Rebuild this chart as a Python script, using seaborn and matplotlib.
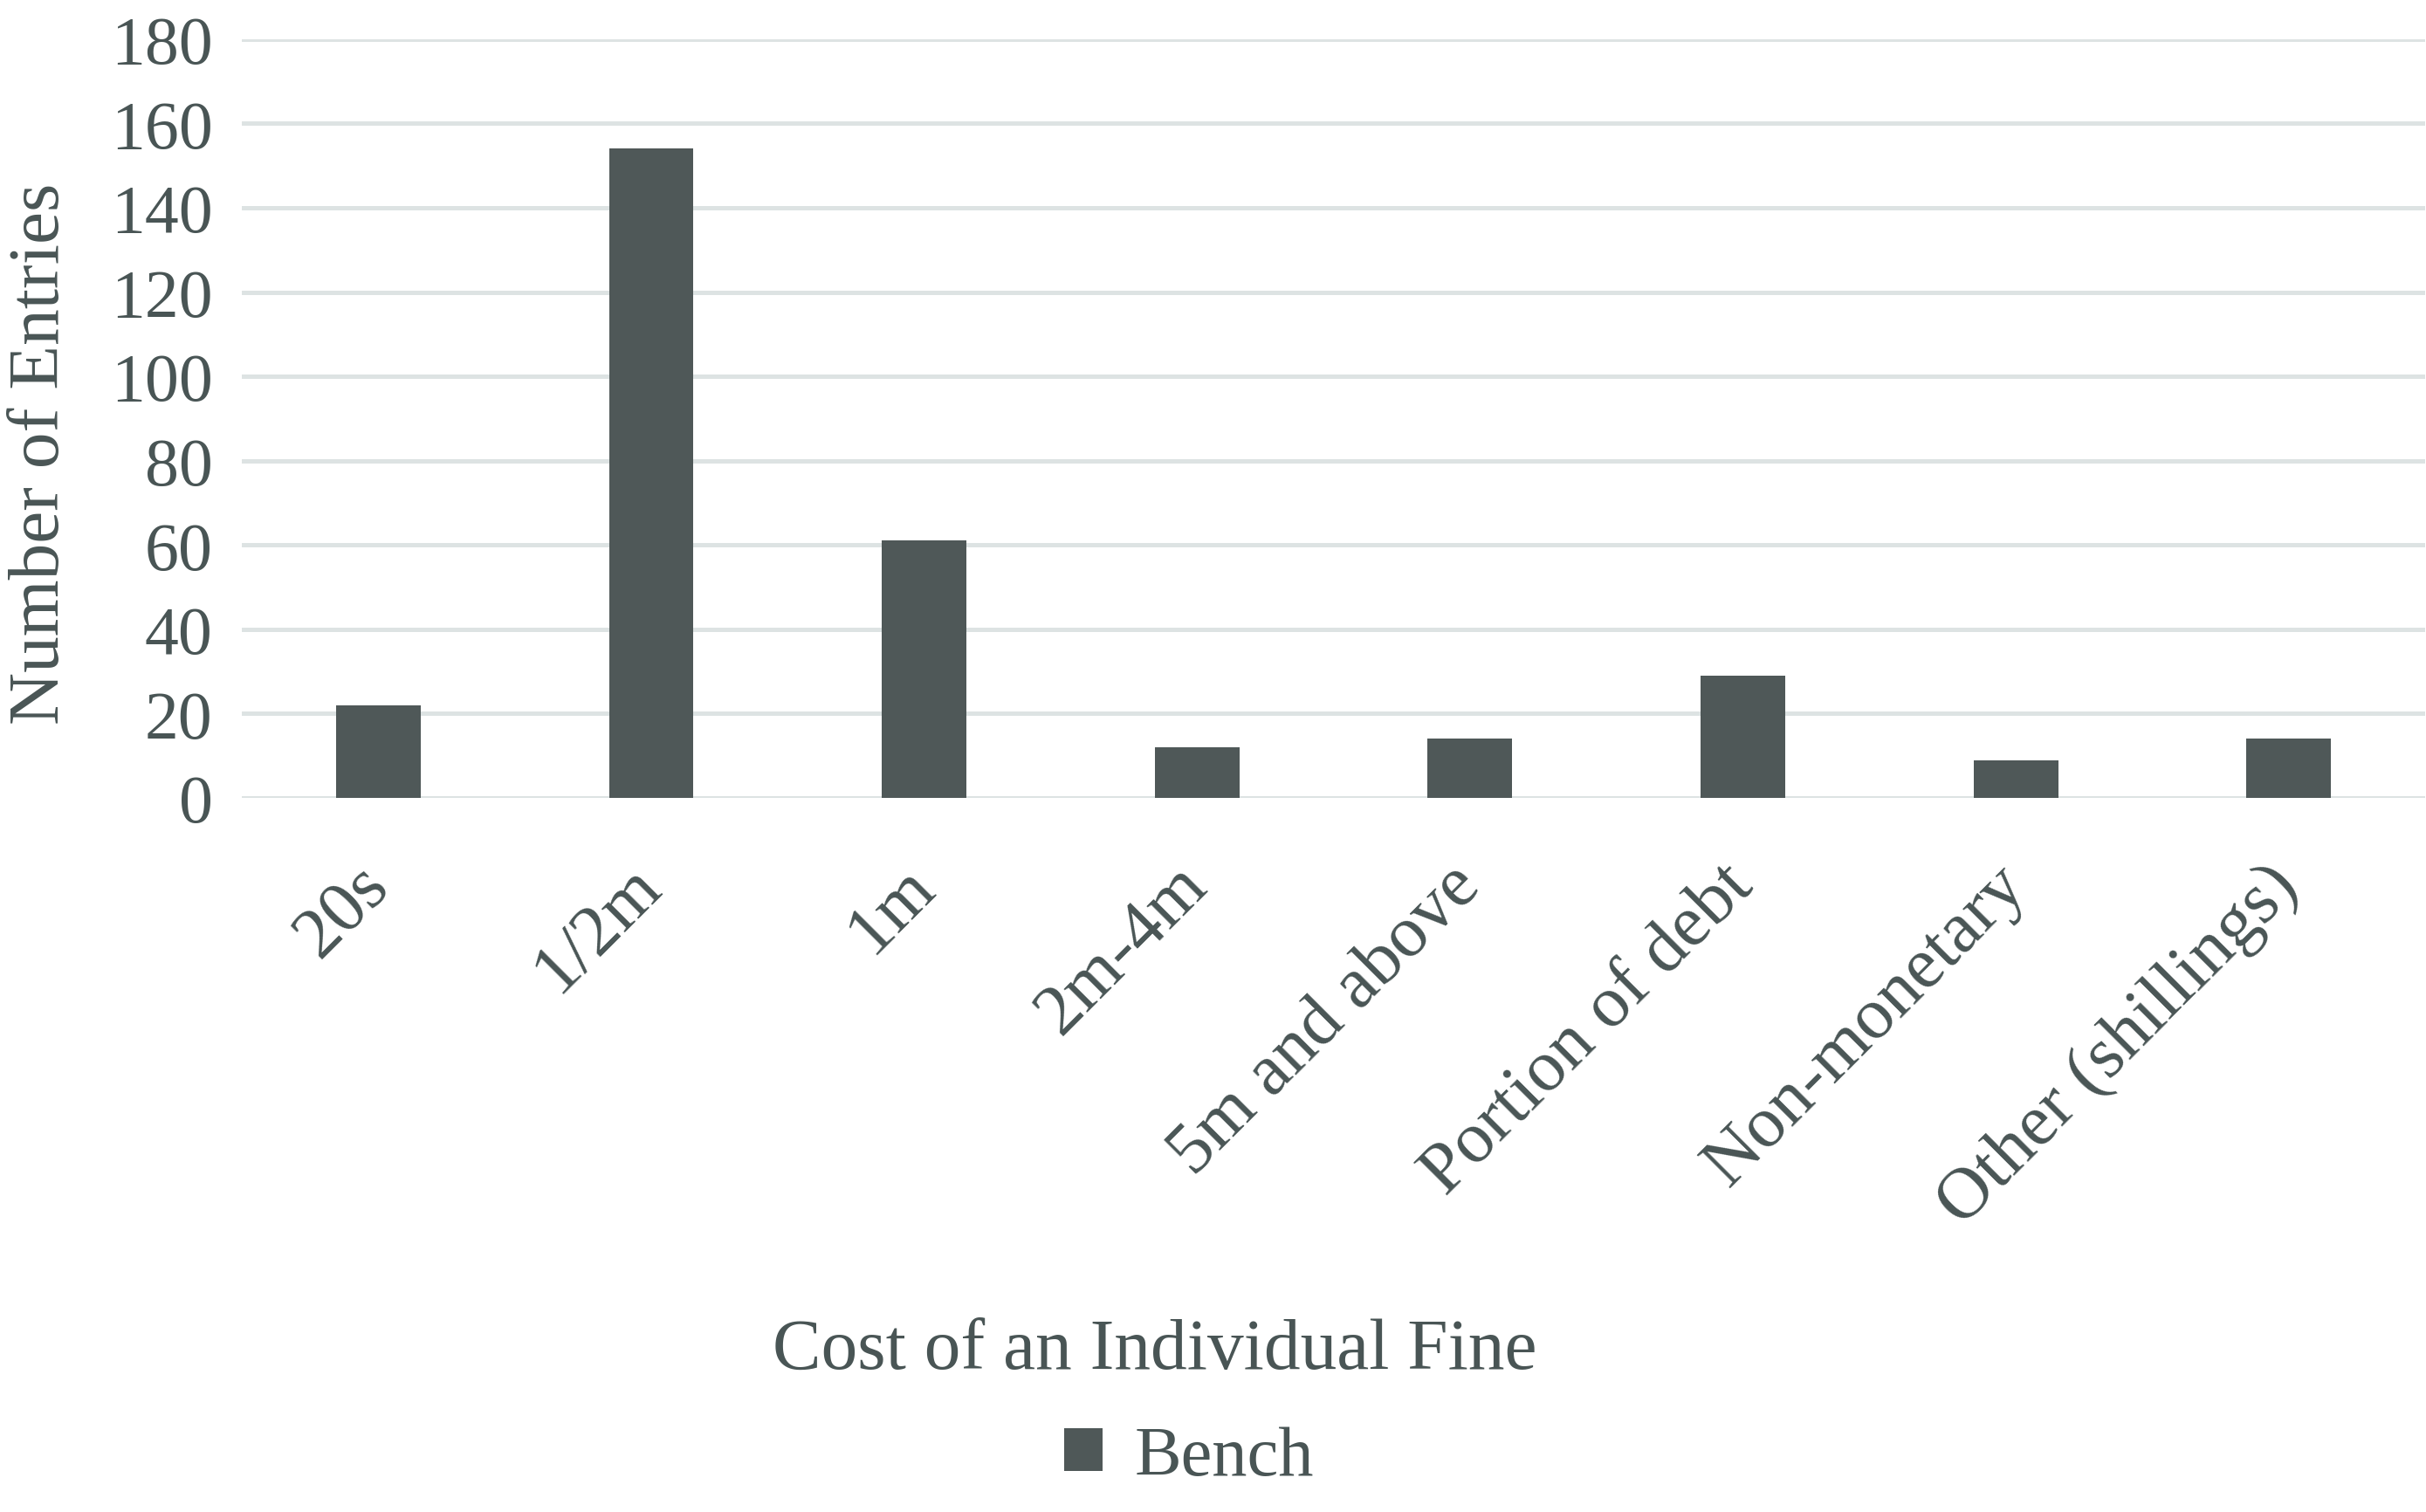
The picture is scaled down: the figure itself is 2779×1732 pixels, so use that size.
import pandas as pd
import matplotlib
matplotlib.use("Agg")
import matplotlib.pyplot as plt
import seaborn as sns

# ── DATA ───────────────────────────────────────────────
categories = ['20s', '1/2m', '1m', '2m-4m', '5m and above',
              'Portion of debt', 'Non-monetary', 'Other (shillings)']
entries = [22, 154, 61, 12, 14, 29, 9, 14]
series = ['Bench'] * len(categories)
y_ticks = [0, 20, 40, 60, 80, 100, 120, 140, 160, 180]

df = pd.DataFrame({'Cost': categories, 'Entries': entries, 'Series': series})

# ── STYLE ──────────────────────────────────────────────
sns.set_style('white')
plt.rcParams['font.family'] = ['Liberation Serif', 'DejaVu Serif']
text_col = '#495555'
bar_col = '#4d5a59'
grid_col = '#dde3e3'

fig = plt.figure(figsize=(27.79, 17.33), dpi=100)
ax = fig.add_axes([0.0997, 0.472, 0.9, 0.5015])

sns.barplot(data=df, x='Cost', y='Entries', hue='Series',
            palette={'Bench': bar_col}, width=0.31, ax=ax,
            edgecolor='none', zorder=3)

ax.set_xlim(-0.5, len(categories) - 0.5)
ax.set_ylim(0, 180)
ax.set_yticks(y_ticks)
ax.yaxis.grid(True, color=grid_col, linewidth=3.6, zorder=0)
ax.xaxis.grid(False)
for sp in ax.spines.values():
    sp.set_visible(False)
ax.tick_params(axis='y', length=0, labelsize=56, colors=text_col, pad=24)
ax.tick_params(axis='x', length=0, labelsize=60, colors=text_col, pad=64)
plt.setp(ax.get_xticklabels(), rotation=45, ha='right',
         rotation_mode='anchor', va='center')

ax.set_xlabel('')
ax.set_ylabel('')
fig.text(0.476, 0.107, 'Cost of an Individual Fine', ha='center', va='center',
         fontsize=60, color=text_col)
fig.text(0.017, 0.70, 'Number of Entries', ha='center', va='center',
         rotation=90, fontsize=60, color=text_col)

sns.move_legend(ax, 'center', bbox_to_anchor=(0.49, 0.036),
                bbox_transform=fig.transFigure, frameon=False, title=None,
                fontsize=58, labelcolor=text_col, handlelength=0.55,
                handleheight=0.55, handletextpad=0.45)

fig.savefig('out.png', dpi=100, facecolor='white')
